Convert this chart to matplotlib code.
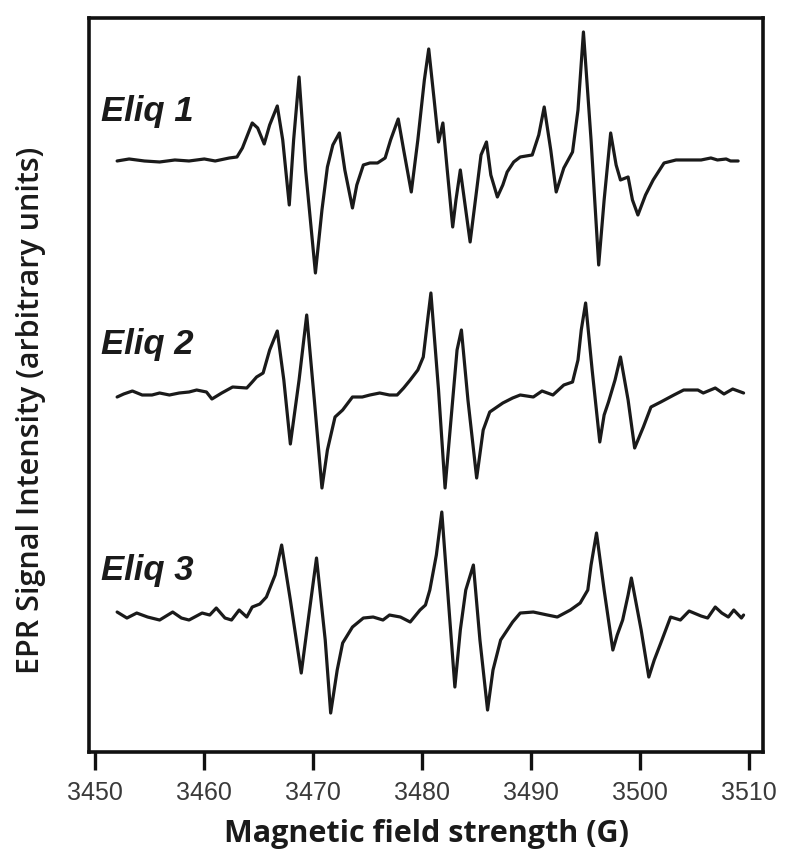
import numpy as np
import matplotlib
matplotlib.use("Agg")
import matplotlib.pyplot as plt

# field (G) and signal (arbitrary units, relative to each baseline)
field_1 = [3452.0, 3453.1, 3454.5, 3455.9, 3457.3, 3458.6, 3460.0, 3461.0, 3462.3, 3463.0,
           3463.5, 3464.4, 3464.9, 3465.5, 3466.0, 3466.7, 3467.2, 3467.8, 3468.2, 3468.7,
           3469.3, 3470.2, 3470.8, 3471.3, 3471.8, 3472.4, 3472.9, 3473.6, 3474.0, 3474.6,
           3475.2, 3475.9, 3476.6, 3477.1, 3477.8, 3478.3, 3479.0, 3479.6, 3480.2, 3480.6,
           3481.1, 3481.5, 3481.9, 3482.3, 3482.8, 3483.1, 3483.5, 3484.0, 3484.4, 3485.0,
           3485.4, 3485.9, 3486.3, 3486.9, 3487.4, 3487.8, 3488.4, 3489.0, 3490.1, 3490.7,
           3491.2, 3491.8, 3492.3, 3493.0, 3493.8, 3494.3, 3494.8, 3495.5, 3496.2, 3496.7,
           3497.3, 3497.8, 3498.2, 3498.9, 3499.3, 3499.8, 3500.5, 3501.2, 3502.2, 3503.3,
           3504.4, 3505.6, 3506.5, 3507.1, 3507.9, 3508.3, 3509.0]
signal_1 = [-1, 1, -1, -2, 0, -1, 1, -1, 2, 3,
            12, 37, 32, 16, 35, 54, 20, -45, 20, 83,
            -10, -113, -50, -7, 15, 27, -10, -48, -25, -5,
            -3, -3, 2, 20, 41, 10, -32, 20, 80, 111,
            60, 18, 37, -10, -67, -40, -10, -50, -82, -30,
            5, 18, -15, -37, -25, -12, -2, 3, 5, 25,
            53, 10, -32, -8, 8, 50, 128, 20, -105, -40,
            27, -5, -20, -17, -40, -55, -35, -20, -3, 0,
            0, 0, 2, 0, 1, -1, -1]

field_2 = [3452.0, 3452.6, 3453.4, 3454.3, 3455.2, 3455.9, 3456.8, 3457.7, 3458.6, 3459.3,
           3460.2, 3460.7, 3461.6, 3462.6, 3463.9, 3464.4, 3464.8, 3465.4, 3466.0, 3466.7,
           3467.3, 3467.9, 3468.7, 3469.4, 3470.1, 3470.8, 3471.3, 3472.0, 3472.7, 3473.6,
           3474.5, 3475.2, 3476.1, 3477.0, 3477.7, 3478.3, 3478.9, 3479.6, 3480.1, 3480.5,
           3480.8, 3481.5, 3482.1, 3482.8, 3483.2, 3483.6, 3484.2, 3485.0, 3485.6, 3486.2,
           3487.4, 3488.3, 3489.0, 3490.2, 3491.0, 3492.0, 3493.0, 3493.8, 3494.3, 3494.6,
           3495.0, 3495.6, 3496.3, 3496.7, 3497.1, 3497.7, 3498.2, 3498.9, 3499.5, 3500.3,
           3501.0, 3501.9, 3503.1, 3504.0, 3505.3, 3505.8, 3506.9, 3507.7, 3508.5, 3509.5]
signal_2 = [-2, 1, 4, 0, 0, 2, 0, 2, 3, 5,
            3, -4, 2, 8, 7, 13, 18, 22, 45, 64,
            15, -49, 15, 80, -5, -93, -55, -22, -15, -2,
            -2, 0, 2, 0, 0, 7, 15, 25, 38, 75,
            102, 5, -93, -5, 45, 65, -5, -83, -35, -17,
            -8, -3, 0, -2, 4, 0, 10, 13, 35, 65,
            92, 25, -47, -20, -7, 15, 38, -5, -53, -32,
            -12, -7, 0, 5, 5, 2, 7, 1, 6, 2]

field_3 = [3452.0, 3452.9, 3453.8, 3454.8, 3455.9, 3457.1, 3457.9, 3458.6, 3459.8, 3460.5,
           3461.1, 3461.9, 3462.5, 3463.2, 3463.9, 3464.4, 3465.1, 3465.7, 3466.5, 3467.1,
           3467.9, 3468.9, 3469.6, 3470.3, 3471.1, 3471.6, 3472.2, 3472.7, 3473.6, 3474.6,
           3475.5, 3476.4, 3477.0, 3478.0, 3478.9, 3479.8, 3480.3, 3480.7, 3481.3, 3481.8,
           3482.4, 3483.0, 3483.5, 3484.0, 3484.7, 3485.3, 3486.0, 3486.5, 3487.2, 3488.3,
           3489.0, 3490.2, 3491.5, 3492.4, 3493.6, 3494.5, 3495.2, 3495.5, 3496.0, 3496.7,
           3497.5, 3497.9, 3498.4, 3498.9, 3499.2, 3500.1, 3500.8, 3501.3, 3501.9, 3502.8,
           3503.7, 3504.5, 3505.6, 3506.2, 3506.9, 3507.5, 3508.1, 3508.6, 3509.3, 3509.5]
signal_3 = [3, -3, 2, -2, -5, 3, -3, -5, 2, 0,
            7, -3, -5, 5, -2, 8, 11, 18, 40, 70,
            15, -58, 0, 57, -25, -98, -55, -28, -12, -3,
            -2, -5, 0, -2, -7, 5, 10, 25, 60, 103,
            15, -72, -15, 25, 50, -25, -95, -55, -25, -7,
            2, 3, 0, -2, 5, 12, 25, 50, 82, 25,
            -35, -20, -5, 20, 37, -15, -62, -45, -28, -2,
            -5, 4, -1, -3, 8, 2, -2, 5, -3, 0]

labels = ["Eliq 1", "Eliq 2", "Eliq 3"]
offsets = [592, 357, 137]
label_y = [640, 407, 182]
xticks = [3450, 3460, 3470, 3480, 3490, 3500, 3510]

fig = plt.figure(figsize=(8, 8.68), dpi=100)
ax = fig.add_axes([0.111, 0.1336, 0.843, 0.8457])

traces = [(field_1, signal_1), (field_2, signal_2), (field_3, signal_3)]
for (f, s), off, lab, ly in zip(traces, offsets, labels, label_y):
    ax.plot(f, np.array(s) + off, color="#1a1a1a", lw=2.3,
            solid_joinstyle="round", solid_capstyle="round")
    ax.text(3450.5, ly, lab, fontsize=25, fontweight="bold", fontstyle="italic",
            family="Liberation Sans", color="#1a1a1a", va="center", ha="left")

ax.set_xlim(3449.4, 3511.3)
ax.set_ylim(0, 734)
ax.set_xticks(xticks)
ax.set_yticks([])
for sp in ax.spines.values():
    sp.set_linewidth(2.6)
    sp.set_color("#111111")
ax.tick_params(axis="x", length=13, width=2.4, pad=8, labelsize=18,
               labelcolor="#3a3a3a", color="#111111")
for t in ax.get_xticklabels():
    t.set_family("Liberation Sans")

ax.set_xlabel("Magnetic field strength (G)", fontsize=22, fontweight="bold",
              family="Open Sans", color="#1a1a1a", labelpad=10)
ax.set_ylabel("EPR Signal Intensity (arbitrary units)", fontsize=22, fontweight="semibold",
              family="Open Sans", color="#1a1a1a")
ax.yaxis.set_label_coords(-0.064, 0.466)

fig.savefig("out.png", dpi=100)
